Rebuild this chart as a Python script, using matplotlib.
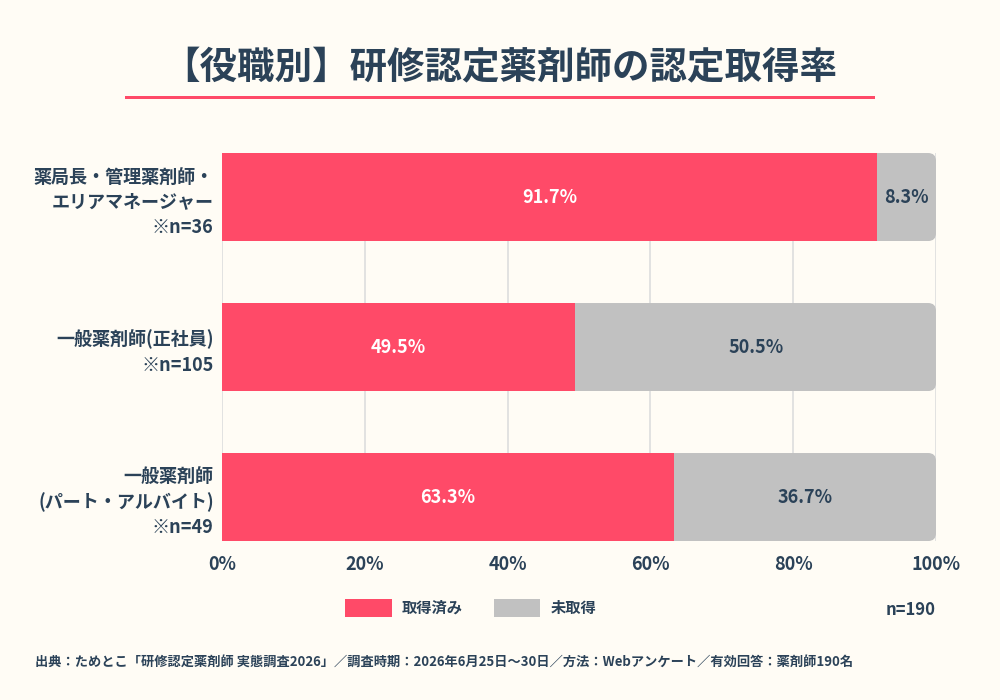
import matplotlib
matplotlib.use("Agg")
import matplotlib.pyplot as plt
from matplotlib.patches import FancyBboxPatch, Rectangle

plt.rcParams['font.family'] = ['Noto Sans CJK JP', 'DejaVu Sans']

categories = ["薬局長・管理薬剤師・\nエリアマネージャー\n※n=36",
              "一般薬剤師(正社員)\n※n=105",
              "一般薬剤師\n(パート・アルバイト)\n※n=49"]
acquired = [91.7, 49.5, 63.3]
not_acquired = [8.3, 50.5, 36.7]
series_names = ["取得済み", "未取得"]
xticks = [0, 20, 40, 60, 80, 100]
xtick_labels = ["0%", "20%", "40%", "60%", "80%", "100%"]
title = "【役職別】研修認定薬剤師の認定取得率"
total_note = "n=190"
source = "出典：ためとこ「研修認定薬剤師 実態調査2026」／調査時期：2026年6月25日〜30日／方法：Webアンケート／有効回答：薬剤師190名"

BG = "#FFFCF5"
RED = "#FF4A68"
GRAY = "#C1C1C1"
DARK = "#2B4258"

fig = plt.figure(figsize=(10, 7), dpi=100, facecolor=BG)
ax = fig.add_axes([0.222, 0.2271, 0.714, 0.5543])
ax.set_facecolor(BG)

h = 0.5867
y = list(range(len(categories)))
ax.barh(y, acquired, height=h, color=RED, zorder=3)
gbars = ax.barh(y, not_acquired, left=acquired, height=h, color=GRAY, zorder=3)

# rounded right end
for yi, b in zip(y, gbars):
    clip = FancyBboxPatch((0, yi - h / 2), 100, h,
                          boxstyle="round,pad=0,rounding_size=1.1",
                          mutation_aspect=0.048, transform=ax.transData,
                          facecolor='none', edgecolor='none')
    ax.add_patch(clip)
    b.set_clip_path(clip)

for yi, a, n in zip(y, acquired, not_acquired):
    ax.text(a / 2, yi, f"{a}%", ha='center', va='center', color='white',
            fontsize=13, fontweight='bold', zorder=4)
    ax.text(a + n / 2, yi, f"{n}%", ha='center', va='center', color=DARK,
            fontsize=13, fontweight='bold', zorder=4)

ax.set_xlim(0, 100)
ax.set_ylim(len(categories) - 1 + h / 2, -h / 2)
ax.set_xticks(xticks)
ax.set_xticklabels(xtick_labels, fontsize=13, fontweight='bold', color=DARK)
ax.set_yticks(y)
ax.set_yticklabels(categories, fontsize=13, fontweight='bold', color=DARK,
                   linespacing=1.4)
ax.tick_params(axis='both', length=0)
ax.tick_params(axis='x', pad=10)
ax.tick_params(axis='y', pad=6)
for s in ax.spines.values():
    s.set_visible(False)
ax.grid(axis='x', color='#DDDDDD', linewidth=1.2, zorder=0)
ax.set_axisbelow(True)

# title and underline
fig.text(0.5, 0.903, title, ha='center', va='center', fontsize=27,
         fontweight='bold', color=DARK)
fig.add_artist(Rectangle((0.125, 0.858), 0.75, 0.0055, transform=fig.transFigure,
                         color=RED, linewidth=0))

# legend
fig.add_artist(Rectangle((0.345, 0.119), 0.047, 0.026, transform=fig.transFigure,
                         color=RED, linewidth=0))
fig.text(0.402, 0.132, series_names[0], ha='left', va='center', fontsize=11,
         fontweight='bold', color=DARK)
fig.add_artist(Rectangle((0.494, 0.119), 0.046, 0.026, transform=fig.transFigure,
                         color=GRAY, linewidth=0))
fig.text(0.551, 0.132, series_names[1], ha='left', va='center', fontsize=11,
         fontweight='bold', color=DARK)
fig.text(0.936, 0.129, total_note, ha='right', va='center', fontsize=12,
         fontweight='bold', color=DARK)

fig.text(0.035, 0.054, source, ha='left', va='center', fontsize=9.5,
         fontweight='bold', color=DARK)

fig.savefig("out.png", dpi=100, facecolor=BG)
